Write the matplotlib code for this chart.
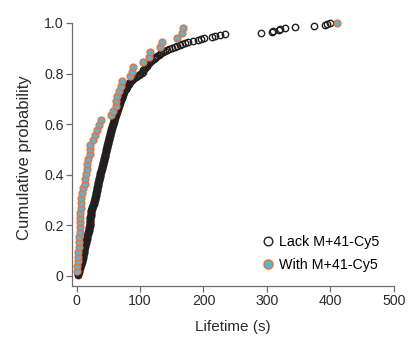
import numpy as np
import matplotlib
matplotlib.use("Agg")
import matplotlib.pyplot as plt

plt.rcParams['font.family'] = ['Liberation Sans', 'DejaVu Sans']

# lifetimes (s)
lack_lifetimes = [
    2.4, 2.6, 2.9, 3.2, 3.6, 4.0, 4.5, 5.0, 5.5, 6.2,
    6.8, 7.2, 7.6, 8.0, 8.4, 8.7, 9.1, 9.5, 10.0, 10.5,
    10.8, 11.0, 11.2, 11.4, 11.6, 11.8, 12.1, 12.4, 12.7, 13.1,
    13.5, 13.9, 14.3, 14.7, 15.0, 15.4, 15.8, 16.2, 16.6, 17.0,
    17.5, 18.0, 18.5, 19.0, 19.5, 19.8, 20.1, 20.4, 20.7, 21.0,
    21.1, 21.2, 21.3, 21.4, 21.5, 21.6, 21.8, 22.0, 22.2, 22.4,
    22.6, 22.8, 23.0, 23.2, 23.4, 23.8, 24.3, 24.9, 25.5, 26.2,
    26.8, 27.3, 27.8, 28.3, 28.7, 29.1, 29.5, 29.8, 30.1, 30.4,
    30.7, 31.0, 31.3, 31.6, 31.9, 32.2, 32.5, 32.8, 33.1, 33.4,
    33.8, 34.2, 34.6, 35.0, 35.4, 35.8, 36.1, 36.4, 36.7, 37.0,
    37.4, 37.8, 38.2, 38.6, 39.0, 39.4, 39.8, 40.2, 40.6, 41.0,
    41.4, 41.8, 42.2, 42.6, 43.0, 43.4, 43.8, 44.2, 44.6, 45.0,
    45.4, 45.8, 46.2, 46.6, 47.0, 47.4, 47.8, 48.2, 48.6, 49.0,
    49.4, 49.8, 50.2, 50.6, 51.0, 51.4, 51.8, 52.2, 52.6, 53.0,
    53.4, 53.8, 54.2, 54.6, 55.0, 55.4, 55.8, 56.3, 56.8, 57.3,
    57.8, 58.3, 58.8, 59.3, 59.8, 60.3, 60.8, 61.3, 61.8, 62.3,
    62.8, 63.3, 63.8, 64.3, 64.8, 65.3, 65.8, 66.3, 66.8, 67.3,
    67.9, 68.5, 69.1, 69.7, 70.3, 70.9, 71.5, 72.1, 72.7, 73.3,
    74.0, 74.8, 75.6, 76.4, 77.2, 78.0, 78.8, 79.6, 80.6, 82.0,
    83.5, 85.0, 86.5, 88.0, 89.5, 91.0, 93.0, 95.5, 98.0, 100.5,
    102.5, 104.0, 105.5, 107.0, 108.2, 109.4, 110.6, 111.8, 113.0, 114.5,
    115.7, 117.5, 119.5, 121.5, 123.5, 125.5, 127.5, 129.5, 131.0, 133.0,
    136.0, 139.0, 142.0, 145.0, 150.0, 155.0, 159.0, 163.0, 167.0, 171.0,
    176.0, 184.0, 192.0, 196.0, 201.0, 214.0, 218.0, 226.0, 234.0, 291.0,
    308.0, 310.0, 319.0, 321.0, 329.0, 345.0, 374.0, 392.0, 395.0, 400.0,
]

with_lifetimes = [
    1.0, 1.5, 2.0, 2.5, 3.0, 3.5, 4.0, 4.5, 5.0, 5.2,
    5.5, 5.8, 6.0, 6.6, 7.0, 7.6, 8.7, 9.7, 13.4, 14.0,
    15.0, 16.0, 17.0, 18.6, 21.0, 22.0, 22.0, 25.5, 29.0, 32.0,
    36.0, 38.0, 54.0, 57.0, 61.7, 62.0, 64.0, 67.5, 70.0, 72.0,
    84.0, 87.0, 89.5, 105.0, 113.6, 115.7, 132.0, 134.6, 158.0, 166.0,
    168.0, 410.0,
]

labels = ['Lack M+41-Cy5', 'With M+41-Cy5']

lack_x = np.sort(lack_lifetimes)
lack_y = np.arange(1, len(lack_x) + 1) / len(lack_x)
with_x = np.sort(with_lifetimes)
with_y = np.arange(1, len(with_x) + 1) / len(with_x)

fig = plt.figure(figsize=(4.10, 3.37), dpi=100)
ax = fig.add_axes([0.1756, 0.151, 0.785, 0.781])

ax.plot(lack_x, lack_y, 'o', ms=4.6, mfc='none', mec='#231f20', mew=1.0,
        label=labels[0], clip_on=False)
ax.plot(with_x, with_y, 'o', ms=4.8, mfc='#4db8e0', mec='#f0703a', mew=1.1,
        label=labels[1], clip_on=False)

ax.set_xlim(-7.1, 500)
ax.set_ylim(-0.04, 1.0)
ax.set_xticks([0, 100, 200, 300, 400, 500])
ax.set_yticks([0, 0.2, 0.4, 0.6, 0.8, 1.0])
ax.set_yticklabels(['0', '0.2', '0.4', '0.6', '0.8', '1.0'])

for side in ['top', 'right']:
    ax.spines[side].set_visible(False)
for side in ['left', 'bottom']:
    ax.spines[side].set_color('#6d6e71')
    ax.spines[side].set_linewidth(0.9)
ax.tick_params(direction='out', length=4, width=0.9, color='#6d6e71',
               labelsize=10.2, labelcolor='#2b2b2b', pad=2)

ax.set_xlabel('Lifetime (s)', fontsize=11, color='#2b2b2b', labelpad=8)
ax.set_ylabel('Cumulative probability', fontsize=12, color='#2b2b2b')
ax.yaxis.set_label_coords(-0.125, 0.487)

ax.legend(loc='upper left', bbox_to_anchor=(0.5975, 0.193), frameon=False,
          fontsize=10.3, handlelength=0.5, handletextpad=0.52,
          labelspacing=0.6, borderpad=0, borderaxespad=0, markerscale=1.35)

fig.savefig('out.png', dpi=100)
